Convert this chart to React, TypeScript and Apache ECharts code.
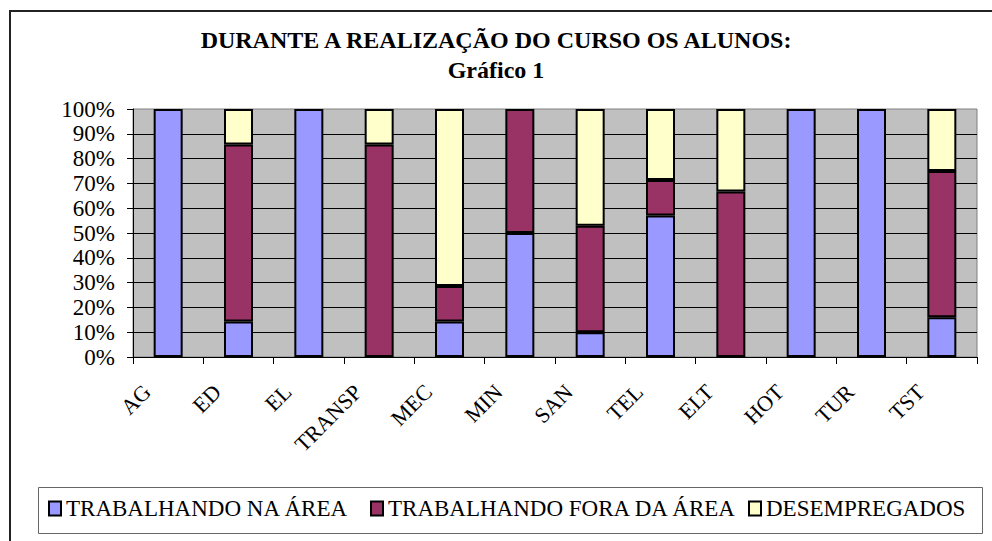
import React, { useEffect, useRef } from "react";
import * as echarts from "echarts";

const categories = ["AG", "ED", "EL", "TRANSP", "MEC", "MIN", "SAN", "TEL", "ELT", "HOT", "TUR", "TST"];
const seriesNames = ["TRABALHANDO NA ÁREA", "TRABALHANDO FORA DA ÁREA", "DESEMPREGADOS"];
const naArea = [100, 14.3, 100, 0, 14.3, 50, 10, 57.1, 0, 100, 100, 16];
const foraArea = [0, 71.4, 0, 85.7, 14.3, 50, 42.9, 14.3, 66.7, 0, 0, 59];
const desempregados = [0, 14.3, 0, 14.3, 71.4, 0, 47.1, 28.6, 33.3, 0, 0, 25];
const seriesColors = ["#9999FF", "#993366", "#FFFFCC"];
const titleLines = ["DURANTE A REALIZAÇÃO DO CURSO OS ALUNOS:", "Gráfico 1"];

const FONT = "'Liberation Serif', 'Times New Roman', serif";

export default function App() {
  const ref = useRef<HTMLDivElement>(null);

  useEffect(() => {
    if (!ref.current) return;
    const chart = echarts.init(ref.current, undefined, { renderer: "svg" });
    const values = [naArea, foraArea, desempregados];
    const legendLefts = [48, 370, 748];
    chart.setOption({
      animation: false,
      backgroundColor: "#FFFFFF",
      textStyle: { fontFamily: FONT, color: "#000" },
      title: {
        text: titleLines.join("\n"),
        left: "center",
        top: 25,
        padding: 0,
        textStyle: {
          fontFamily: FONT,
          fontWeight: "bold",
          fontSize: 24,
          lineHeight: 30,
          color: "#000",
        },
      },
      graphic: [
        {
          type: "rect",
          shape: { x: 10, y: 11, width: 1100, height: 700 },
          style: { fill: "none", stroke: "#222", lineWidth: 2 },
          silent: true,
        },
        {
          type: "rect",
          shape: { x: 38.5, y: 487.5, width: 944, height: 46 },
          style: { fill: "none", stroke: "#666", lineWidth: 1 },
          silent: true,
        },
      ],
      legend: seriesNames.map((n, i) => ({
        data: [n],
        left: legendLefts[i],
        top: 497,
        padding: 0,
        itemWidth: 12,
        itemHeight: 14,
        icon: "rect",
        selectedMode: false,
        textStyle: { fontFamily: FONT, fontSize: 23, color: "#000" },
      })),
      grid: {
        left: 133,
        right: 15,
        top: 109,
        height: 248,
        show: true,
        backgroundColor: "#C0C0C0",
        borderColor: "#808080",
        borderWidth: 1,
      },
      xAxis: {
        type: "category",
        data: categories,
        axisLine: { show: true, lineStyle: { color: "#000", width: 1 } },
        axisTick: { show: true, length: 7, lineStyle: { color: "#000" } },
        axisLabel: {
          rotate: 45,
          margin: 10,
          padding: [0, 30, 0, 0],
          fontFamily: FONT,
          fontSize: 22,
          color: "#000",
          interval: 0,
        },
      },
      yAxis: {
        type: "value",
        min: 0,
        max: 100,
        interval: 10,
        axisLine: { show: true, lineStyle: { color: "#000", width: 1 } },
        axisTick: { show: true, length: 6, lineStyle: { color: "#000" } },
        axisLabel: {
          formatter: "{value}%",
          margin: 18,
          fontFamily: FONT,
          fontSize: 23,
          color: "#000",
        },
        splitLine: { show: true, showMaxLine: false, lineStyle: { color: "#000", width: 1 } },
      },
      series: seriesNames.map((n, i) => ({
        name: n,
        type: "bar",
        stack: "total",
        barWidth: 29,
        data: values[i].map((v) => (v === 0 ? null : v)),
        itemStyle: { color: seriesColors[i], borderColor: "#000", borderWidth: 2 },
      })),
    });
    return () => chart.dispose();
  }, []);

  return (
    <div
      ref={ref}
      style={{ position: "fixed", left: 0, top: 0, width: 992, height: 541 }}
    />
  );
}
